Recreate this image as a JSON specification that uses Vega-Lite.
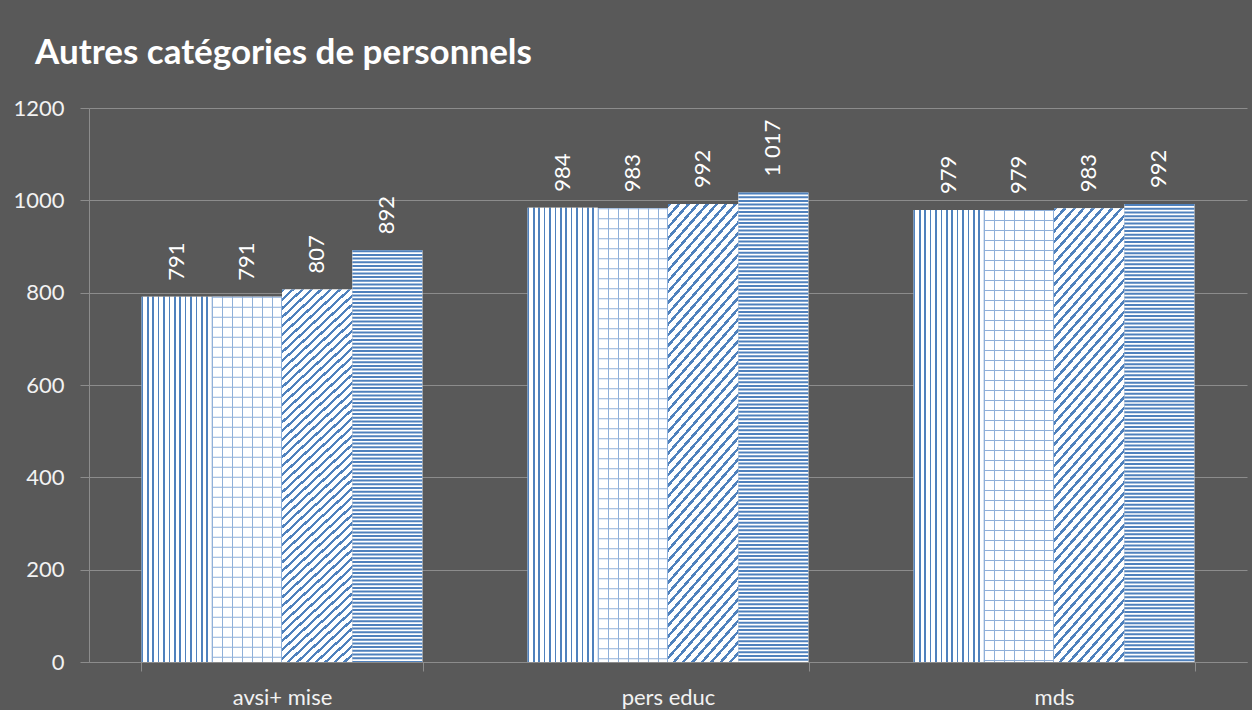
{
 "$schema": "https://vega.github.io/schema/vega-lite/v6.json",
 "width": 1158, "height": 554,
 "autosize": "none",
 "padding": {"left": 89, "top": 108, "right": 5, "bottom": 48},
 "background": "#595959",
 "title": {"text": "Autres catégories de personnels", "anchor": "start", "frame": "group", "dx": -54, "font": "Lato", "fontSize": 35, "fontWeight": "bold", "color": "#ffffff", "offset": 26},
 "config": {"view": {"stroke": null}, "font": "Lato"},
 "data": {"values": [
  {"groupe": "avsi+ mise", "serie": "s1", "valeur": 791},
  {"groupe": "avsi+ mise", "serie": "s2", "valeur": 791},
  {"groupe": "avsi+ mise", "serie": "s3", "valeur": 807},
  {"groupe": "avsi+ mise", "serie": "s4", "valeur": 892},
  {"groupe": "pers educ", "serie": "s1", "valeur": 984},
  {"groupe": "pers educ", "serie": "s2", "valeur": 983},
  {"groupe": "pers educ", "serie": "s3", "valeur": 992},
  {"groupe": "pers educ", "serie": "s4", "valeur": 1017},
  {"groupe": "mds", "serie": "s1", "valeur": 979},
  {"groupe": "mds", "serie": "s2", "valeur": 979},
  {"groupe": "mds", "serie": "s3", "valeur": 983},
  {"groupe": "mds", "serie": "s4", "valeur": 992}
 ]},
 "encoding": {
  "x": {"field": "groupe", "type": "nominal", "sort": ["avsi+ mise", "pers educ", "mds"],
        "scale": {"paddingInner": 0.272, "paddingOuter": 0.136},
        "axis": {"title": null, "labelAngle": 0, "tickBand": "extent", "tickSize": 9, "tickColor": "#8c8c8c", "domainColor": "#8c8c8c", "labelColor": "#f2f2f2", "labelFont": "Lato", "labelFontSize": 22, "labelPadding": 16, "grid": false}},
  "xOffset": {"field": "serie", "type": "nominal", "scale": {"domain": ["s1", "s2", "s3", "s4"], "paddingInner": 0, "paddingOuter": 0}},
  "y": {"field": "valeur", "type": "quantitative", "scale": {"domain": [0, 1200]},
        "axis": {"title": null, "values": [0, 200, 400, 600, 800, 1000, 1200], "format": "d", "tickSize": 9, "tickColor": "#8c8c8c", "domainColor": "#8c8c8c", "gridColor": "#8c8c8c", "labelColor": "#f2f2f2", "labelFont": "Lato", "labelFontSize": 22, "labelPadding": 16}}
 },
 "layer": [
  {"mark": {"type": "bar", "fill": "#ffffff"}},
  {"transform": [{"filter": "datum.serie === 's1'"}],
   "mark": {"type": "bar", "fill": {"gradient": "linear", "x1": 0, "y1": 0, "x2": 1, "y2": 0, "stops": [
    {"offset": 0, "color": "#4f81bd"}, {"offset": 0.0231, "color": "#4f81bd"}, {"offset": 0.0231, "color": "#fff"}, {"offset": 0.0769, "color": "#fff"},
    {"offset": 0.0769, "color": "#4f81bd"}, {"offset": 0.1, "color": "#4f81bd"}, {"offset": 0.1, "color": "#fff"}, {"offset": 0.1538, "color": "#fff"},
    {"offset": 0.1538, "color": "#4f81bd"}, {"offset": 0.1769, "color": "#4f81bd"}, {"offset": 0.1769, "color": "#fff"}, {"offset": 0.2308, "color": "#fff"},
    {"offset": 0.2308, "color": "#4f81bd"}, {"offset": 0.2538, "color": "#4f81bd"}, {"offset": 0.2538, "color": "#fff"}, {"offset": 0.3077, "color": "#fff"},
    {"offset": 0.3077, "color": "#4f81bd"}, {"offset": 0.3308, "color": "#4f81bd"}, {"offset": 0.3308, "color": "#fff"}, {"offset": 0.3846, "color": "#fff"},
    {"offset": 0.3846, "color": "#4f81bd"}, {"offset": 0.4077, "color": "#4f81bd"}, {"offset": 0.4077, "color": "#fff"}, {"offset": 0.4615, "color": "#fff"},
    {"offset": 0.4615, "color": "#4f81bd"}, {"offset": 0.4846, "color": "#4f81bd"}, {"offset": 0.4846, "color": "#fff"}, {"offset": 0.5385, "color": "#fff"},
    {"offset": 0.5385, "color": "#4f81bd"}, {"offset": 0.5615, "color": "#4f81bd"}, {"offset": 0.5615, "color": "#fff"}, {"offset": 0.6154, "color": "#fff"},
    {"offset": 0.6154, "color": "#4f81bd"}, {"offset": 0.6385, "color": "#4f81bd"}, {"offset": 0.6385, "color": "#fff"}, {"offset": 0.6923, "color": "#fff"},
    {"offset": 0.6923, "color": "#4f81bd"}, {"offset": 0.7154, "color": "#4f81bd"}, {"offset": 0.7154, "color": "#fff"}, {"offset": 0.7692, "color": "#fff"},
    {"offset": 0.7692, "color": "#4f81bd"}, {"offset": 0.7923, "color": "#4f81bd"}, {"offset": 0.7923, "color": "#fff"}, {"offset": 0.8462, "color": "#fff"},
    {"offset": 0.8462, "color": "#4f81bd"}, {"offset": 0.8692, "color": "#4f81bd"}, {"offset": 0.8692, "color": "#fff"}, {"offset": 0.9231, "color": "#fff"},
    {"offset": 0.9231, "color": "#4f81bd"}, {"offset": 0.9462, "color": "#4f81bd"}, {"offset": 0.9462, "color": "#fff"}, {"offset": 1, "color": "#fff"}
   ]}}},
  {"transform": [{"filter": "datum.serie === 's2'"}],
   "mark": {"type": "bar", "fill": {"gradient": "linear", "x1": 0, "y1": 0, "x2": 1, "y2": 0, "stops": [
    {"offset": 0, "color": "#8fb0da"}, {"offset": 0.015, "color": "#8fb0da"}, {"offset": 0.015, "color": "#fff"}, {"offset": 0.1429, "color": "#fff"},
    {"offset": 0.1429, "color": "#8fb0da"}, {"offset": 0.1579, "color": "#8fb0da"}, {"offset": 0.1579, "color": "#fff"}, {"offset": 0.2857, "color": "#fff"},
    {"offset": 0.2857, "color": "#8fb0da"}, {"offset": 0.3007, "color": "#8fb0da"}, {"offset": 0.3007, "color": "#fff"}, {"offset": 0.4286, "color": "#fff"},
    {"offset": 0.4286, "color": "#8fb0da"}, {"offset": 0.4436, "color": "#8fb0da"}, {"offset": 0.4436, "color": "#fff"}, {"offset": 0.5714, "color": "#fff"},
    {"offset": 0.5714, "color": "#8fb0da"}, {"offset": 0.5864, "color": "#8fb0da"}, {"offset": 0.5864, "color": "#fff"}, {"offset": 0.7143, "color": "#fff"},
    {"offset": 0.7143, "color": "#8fb0da"}, {"offset": 0.7293, "color": "#8fb0da"}, {"offset": 0.7293, "color": "#fff"}, {"offset": 0.8571, "color": "#fff"},
    {"offset": 0.8571, "color": "#8fb0da"}, {"offset": 0.8721, "color": "#8fb0da"}, {"offset": 0.8721, "color": "#fff"}, {"offset": 0.985, "color": "#fff"},
    {"offset": 0.985, "color": "#8fb0da"}, {"offset": 1, "color": "#8fb0da"}
   ]}}},
  {"transform": [{"filter": "datum.serie === 's2'"}],
   "mark": {"type": "rule", "color": "#8fb0da", "strokeWidth": 70, "strokeDash": [1, 9]},
   "encoding": {"y2": {"datum": 0}}},
  {"transform": [{"filter": "datum.serie === 's3'"}],
   "mark": {"type": "bar", "fill": {"gradient": "linear", "x1": 0, "y1": 0, "x2": 0.2, "y2": 1.14, "stops": [
    {"offset": 0, "color": "#4f81bd"}, {"offset": 0.007, "color": "#4f81bd"}, {"offset": 0.007, "color": "#fff"}, {"offset": 0.02, "color": "#fff"},
    {"offset": 0.02, "color": "#4f81bd"}, {"offset": 0.027, "color": "#4f81bd"}, {"offset": 0.027, "color": "#fff"}, {"offset": 0.04, "color": "#fff"},
    {"offset": 0.04, "color": "#4f81bd"}, {"offset": 0.047, "color": "#4f81bd"}, {"offset": 0.047, "color": "#fff"}, {"offset": 0.06, "color": "#fff"},
    {"offset": 0.06, "color": "#4f81bd"}, {"offset": 0.067, "color": "#4f81bd"}, {"offset": 0.067, "color": "#fff"}, {"offset": 0.08, "color": "#fff"},
    {"offset": 0.08, "color": "#4f81bd"}, {"offset": 0.087, "color": "#4f81bd"}, {"offset": 0.087, "color": "#fff"}, {"offset": 0.1, "color": "#fff"},
    {"offset": 0.1, "color": "#4f81bd"}, {"offset": 0.107, "color": "#4f81bd"}, {"offset": 0.107, "color": "#fff"}, {"offset": 0.12, "color": "#fff"},
    {"offset": 0.12, "color": "#4f81bd"}, {"offset": 0.127, "color": "#4f81bd"}, {"offset": 0.127, "color": "#fff"}, {"offset": 0.14, "color": "#fff"},
    {"offset": 0.14, "color": "#4f81bd"}, {"offset": 0.147, "color": "#4f81bd"}, {"offset": 0.147, "color": "#fff"}, {"offset": 0.16, "color": "#fff"},
    {"offset": 0.16, "color": "#4f81bd"}, {"offset": 0.167, "color": "#4f81bd"}, {"offset": 0.167, "color": "#fff"}, {"offset": 0.18, "color": "#fff"},
    {"offset": 0.18, "color": "#4f81bd"}, {"offset": 0.187, "color": "#4f81bd"}, {"offset": 0.187, "color": "#fff"}, {"offset": 0.2, "color": "#fff"},
    {"offset": 0.2, "color": "#4f81bd"}, {"offset": 0.207, "color": "#4f81bd"}, {"offset": 0.207, "color": "#fff"}, {"offset": 0.22, "color": "#fff"},
    {"offset": 0.22, "color": "#4f81bd"}, {"offset": 0.227, "color": "#4f81bd"}, {"offset": 0.227, "color": "#fff"}, {"offset": 0.24, "color": "#fff"},
    {"offset": 0.24, "color": "#4f81bd"}, {"offset": 0.247, "color": "#4f81bd"}, {"offset": 0.247, "color": "#fff"}, {"offset": 0.26, "color": "#fff"},
    {"offset": 0.26, "color": "#4f81bd"}, {"offset": 0.267, "color": "#4f81bd"}, {"offset": 0.267, "color": "#fff"}, {"offset": 0.28, "color": "#fff"},
    {"offset": 0.28, "color": "#4f81bd"}, {"offset": 0.287, "color": "#4f81bd"}, {"offset": 0.287, "color": "#fff"}, {"offset": 0.3, "color": "#fff"},
    {"offset": 0.3, "color": "#4f81bd"}, {"offset": 0.307, "color": "#4f81bd"}, {"offset": 0.307, "color": "#fff"}, {"offset": 0.32, "color": "#fff"},
    {"offset": 0.32, "color": "#4f81bd"}, {"offset": 0.327, "color": "#4f81bd"}, {"offset": 0.327, "color": "#fff"}, {"offset": 0.34, "color": "#fff"},
    {"offset": 0.34, "color": "#4f81bd"}, {"offset": 0.347, "color": "#4f81bd"}, {"offset": 0.347, "color": "#fff"}, {"offset": 0.36, "color": "#fff"},
    {"offset": 0.36, "color": "#4f81bd"}, {"offset": 0.367, "color": "#4f81bd"}, {"offset": 0.367, "color": "#fff"}, {"offset": 0.38, "color": "#fff"},
    {"offset": 0.38, "color": "#4f81bd"}, {"offset": 0.387, "color": "#4f81bd"}, {"offset": 0.387, "color": "#fff"}, {"offset": 0.4, "color": "#fff"},
    {"offset": 0.4, "color": "#4f81bd"}, {"offset": 0.407, "color": "#4f81bd"}, {"offset": 0.407, "color": "#fff"}, {"offset": 0.42, "color": "#fff"},
    {"offset": 0.42, "color": "#4f81bd"}, {"offset": 0.427, "color": "#4f81bd"}, {"offset": 0.427, "color": "#fff"}, {"offset": 0.44, "color": "#fff"},
    {"offset": 0.44, "color": "#4f81bd"}, {"offset": 0.447, "color": "#4f81bd"}, {"offset": 0.447, "color": "#fff"}, {"offset": 0.46, "color": "#fff"},
    {"offset": 0.46, "color": "#4f81bd"}, {"offset": 0.467, "color": "#4f81bd"}, {"offset": 0.467, "color": "#fff"}, {"offset": 0.48, "color": "#fff"},
    {"offset": 0.48, "color": "#4f81bd"}, {"offset": 0.487, "color": "#4f81bd"}, {"offset": 0.487, "color": "#fff"}, {"offset": 0.5, "color": "#fff"},
    {"offset": 0.5, "color": "#4f81bd"}, {"offset": 0.507, "color": "#4f81bd"}, {"offset": 0.507, "color": "#fff"}, {"offset": 0.52, "color": "#fff"},
    {"offset": 0.52, "color": "#4f81bd"}, {"offset": 0.527, "color": "#4f81bd"}, {"offset": 0.527, "color": "#fff"}, {"offset": 0.54, "color": "#fff"},
    {"offset": 0.54, "color": "#4f81bd"}, {"offset": 0.547, "color": "#4f81bd"}, {"offset": 0.547, "color": "#fff"}, {"offset": 0.56, "color": "#fff"},
    {"offset": 0.56, "color": "#4f81bd"}, {"offset": 0.567, "color": "#4f81bd"}, {"offset": 0.567, "color": "#fff"}, {"offset": 0.58, "color": "#fff"},
    {"offset": 0.58, "color": "#4f81bd"}, {"offset": 0.587, "color": "#4f81bd"}, {"offset": 0.587, "color": "#fff"}, {"offset": 0.6, "color": "#fff"},
    {"offset": 0.6, "color": "#4f81bd"}, {"offset": 0.607, "color": "#4f81bd"}, {"offset": 0.607, "color": "#fff"}, {"offset": 0.62, "color": "#fff"},
    {"offset": 0.62, "color": "#4f81bd"}, {"offset": 0.627, "color": "#4f81bd"}, {"offset": 0.627, "color": "#fff"}, {"offset": 0.64, "color": "#fff"},
    {"offset": 0.64, "color": "#4f81bd"}, {"offset": 0.647, "color": "#4f81bd"}, {"offset": 0.647, "color": "#fff"}, {"offset": 0.66, "color": "#fff"},
    {"offset": 0.66, "color": "#4f81bd"}, {"offset": 0.667, "color": "#4f81bd"}, {"offset": 0.667, "color": "#fff"}, {"offset": 0.68, "color": "#fff"},
    {"offset": 0.68, "color": "#4f81bd"}, {"offset": 0.687, "color": "#4f81bd"}, {"offset": 0.687, "color": "#fff"}, {"offset": 0.7, "color": "#fff"},
    {"offset": 0.7, "color": "#4f81bd"}, {"offset": 0.707, "color": "#4f81bd"}, {"offset": 0.707, "color": "#fff"}, {"offset": 0.72, "color": "#fff"},
    {"offset": 0.72, "color": "#4f81bd"}, {"offset": 0.727, "color": "#4f81bd"}, {"offset": 0.727, "color": "#fff"}, {"offset": 0.74, "color": "#fff"},
    {"offset": 0.74, "color": "#4f81bd"}, {"offset": 0.747, "color": "#4f81bd"}, {"offset": 0.747, "color": "#fff"}, {"offset": 0.76, "color": "#fff"},
    {"offset": 0.76, "color": "#4f81bd"}, {"offset": 0.767, "color": "#4f81bd"}, {"offset": 0.767, "color": "#fff"}, {"offset": 0.78, "color": "#fff"},
    {"offset": 0.78, "color": "#4f81bd"}, {"offset": 0.787, "color": "#4f81bd"}, {"offset": 0.787, "color": "#fff"}, {"offset": 0.8, "color": "#fff"},
    {"offset": 0.8, "color": "#4f81bd"}, {"offset": 0.807, "color": "#4f81bd"}, {"offset": 0.807, "color": "#fff"}, {"offset": 0.82, "color": "#fff"},
    {"offset": 0.82, "color": "#4f81bd"}, {"offset": 0.827, "color": "#4f81bd"}, {"offset": 0.827, "color": "#fff"}, {"offset": 0.84, "color": "#fff"},
    {"offset": 0.84, "color": "#4f81bd"}, {"offset": 0.847, "color": "#4f81bd"}, {"offset": 0.847, "color": "#fff"}, {"offset": 0.86, "color": "#fff"},
    {"offset": 0.86, "color": "#4f81bd"}, {"offset": 0.867, "color": "#4f81bd"}, {"offset": 0.867, "color": "#fff"}, {"offset": 0.88, "color": "#fff"},
    {"offset": 0.88, "color": "#4f81bd"}, {"offset": 0.887, "color": "#4f81bd"}, {"offset": 0.887, "color": "#fff"}, {"offset": 0.9, "color": "#fff"},
    {"offset": 0.9, "color": "#4f81bd"}, {"offset": 0.907, "color": "#4f81bd"}, {"offset": 0.907, "color": "#fff"}, {"offset": 0.92, "color": "#fff"},
    {"offset": 0.92, "color": "#4f81bd"}, {"offset": 0.927, "color": "#4f81bd"}, {"offset": 0.927, "color": "#fff"}, {"offset": 0.94, "color": "#fff"},
    {"offset": 0.94, "color": "#4f81bd"}, {"offset": 0.947, "color": "#4f81bd"}, {"offset": 0.947, "color": "#fff"}, {"offset": 0.96, "color": "#fff"},
    {"offset": 0.96, "color": "#4f81bd"}, {"offset": 0.967, "color": "#4f81bd"}, {"offset": 0.967, "color": "#fff"}, {"offset": 0.98, "color": "#fff"},
    {"offset": 0.98, "color": "#4f81bd"}, {"offset": 0.987, "color": "#4f81bd"}, {"offset": 0.987, "color": "#fff"}, {"offset": 1, "color": "#fff"}
   ]}}},
  {"transform": [{"filter": "datum.serie === 's4'"}],
   "mark": {"type": "rule", "color": "#4f81bd", "strokeWidth": 70, "strokeDash": [2, 1.7]},
   "encoding": {"y2": {"datum": 0}}},
  {"transform": [{"calculate": "replace(format(datum.valeur, ',d'), ',', '\u00a0')", "as": "etiquette"}],
   "mark": {"type": "text", "angle": 270, "align": "left", "baseline": "middle", "dx": 16, "font": "Lato", "fontSize": 22, "color": "#ffffff"},
   "encoding": {"text": {"field": "etiquette", "type": "nominal"}}}
 ]
}
